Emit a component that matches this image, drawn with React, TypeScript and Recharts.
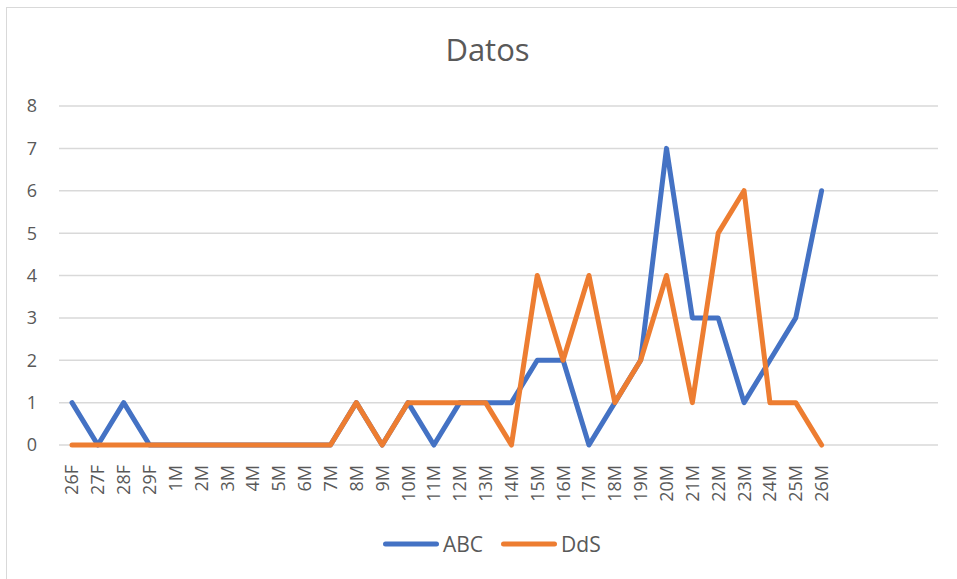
import { CartesianGrid, Legend, Line, LineChart, XAxis, YAxis } from 'recharts';

const CATEGORIES = [
  '26F', '27F', '28F', '29F', '1M', '2M', '3M', '4M', '5M', '6M', '7M', '8M', '9M', '10M', '11M',
  '12M', '13M', '14M', '15M', '16M', '17M', '18M', '19M', '20M', '21M', '22M', '23M', '24M', '25M', '26M',
  '', ' ', '  ', '   ',
];
const ABC = [1, 0, 1, 0, 0, 0, 0, 0, 0, 0, 0, 1, 0, 1, 0, 1, 1, 1, 2, 2, 0, 1, 2, 7, 3, 3, 1, 2, 3, 6];
const DDS = [0, 0, 0, 0, 0, 0, 0, 0, 0, 0, 0, 1, 0, 1, 1, 1, 1, 0, 4, 2, 4, 1, 2, 4, 1, 5, 6, 1, 1, 0];
const Y_TICKS = [0, 1, 2, 3, 4, 5, 6, 7, 8];

const BLUE = '#4472C4';
const ORANGE = '#ED7D31';
const TEXT = '#595959';
const FONT = '"Open Sans", "Noto Sans", sans-serif';

const data = CATEGORIES.map((cat, i) => ({
  cat,
  ABC: ABC[i] ?? null,
  DdS: DDS[i] ?? null,
}));

function XTick({ x, y, payload }: any) {
  return (
    <g transform={`translate(${x},${y})`}>
      <text transform="rotate(-90)" x={-12} y={0} dy="0.36em" textAnchor="end" fill={TEXT} fontSize={18} fontFamily={FONT}>
        {payload.value}
      </text>
    </g>
  );
}

function LegendContent({ payload }: any) {
  return (
    <div style={{ display: 'flex', gap: 18, fontFamily: FONT, fontSize: 21, color: TEXT, paddingLeft: 383, height: 30, alignItems: 'center' }}>
      {(payload ?? []).map((p: any) => (
        <div key={p.value} style={{ display: 'flex', alignItems: 'center', gap: 4 }}>
          <svg width={56} height={8}>
            <line x1={2.5} y1={4} x2={53.5} y2={4} stroke={p.color} strokeWidth={5} strokeLinecap="round" />
          </svg>
          <span style={{ lineHeight: '30px' }}>{p.value}</span>
        </div>
      ))}
    </div>
  );
}

export default function App() {
  return (
    <div style={{ position: 'absolute', left: 0, top: 0, width: 957, height: 579, background: '#fff', overflow: 'hidden' }}>
      <div style={{ position: 'absolute', left: 6, top: 7, width: 980, height: 600, border: '1px solid #d9d9d9' }} />
      <div style={{ position: 'absolute', left: 0, top: 28, width: 975, textAlign: 'center', fontFamily: FONT, fontSize: 31, color: TEXT }}>
        Datos
      </div>
      <div style={{ position: 'absolute', left: 0, top: 0 }}>
        <LineChart width={957} height={579} data={data} margin={{ top: 106, right: 19, bottom: 0, left: 0 }}>
          <CartesianGrid vertical={false} stroke="#d9d9d9" strokeWidth={1.5} />
          <XAxis
            dataKey="cat"
            interval={0}
            height={134}
            padding={{ left: 13, right: 13 }}
            tick={<XTick />}
            tickLine={false}
            axisLine={false}
          />
          <YAxis
            domain={[0, 8]}
            ticks={Y_TICKS}
            width={59}
            axisLine={false}
            tickLine={false}
            tickMargin={16}
            tick={{ fill: TEXT, fontSize: 18, fontFamily: FONT }}
          />
          <Legend verticalAlign="middle" wrapperStyle={{ top: 529, left: 0, width: 957 }} content={<LegendContent />} />
          <Line type="linear" dataKey="ABC" stroke={BLUE} strokeWidth={5} dot={false} strokeLinecap="round" strokeLinejoin="round" isAnimationActive={false} connectNulls={false} />
          <Line type="linear" dataKey="DdS" stroke={ORANGE} strokeWidth={5} dot={false} strokeLinecap="round" strokeLinejoin="round" isAnimationActive={false} connectNulls={false} />
        </LineChart>
      </div>
    </div>
  );
}
